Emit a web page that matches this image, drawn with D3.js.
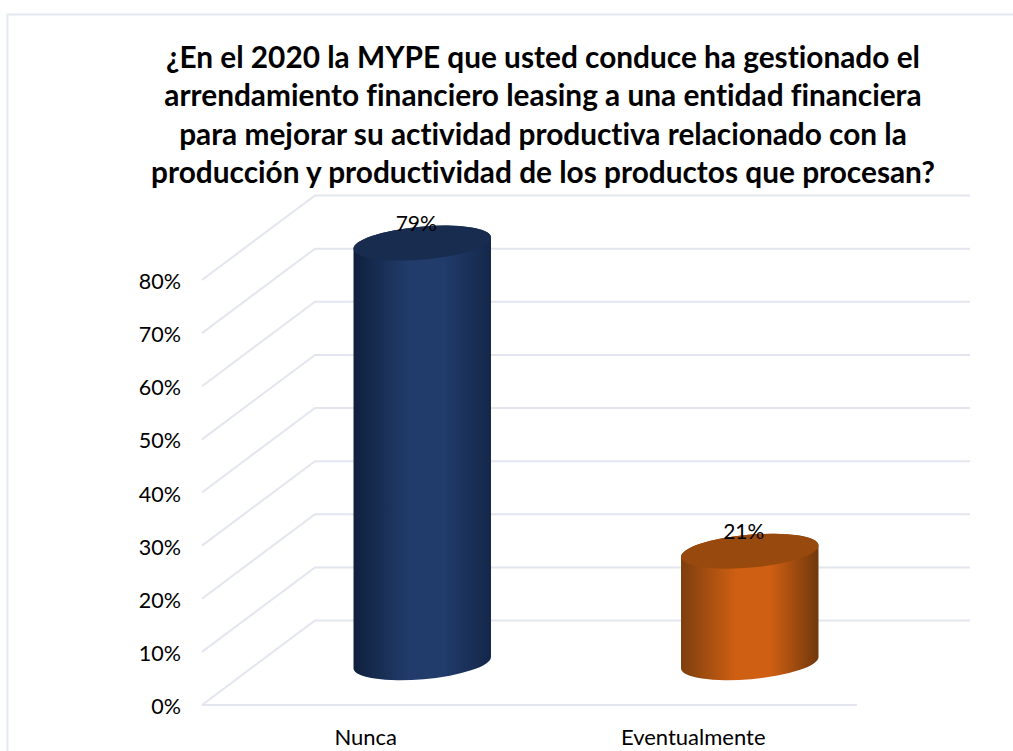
<!DOCTYPE html>
<html>
<head>
<meta charset="utf-8">
<script src="https://cdn.jsdelivr.net/npm/d3@7"></script>
<style>
  html, body { margin: 0; padding: 0; background: #fff; }
  text { font-family: Lato, "Open Sans", sans-serif; fill: #000; font-variant-ligatures: none; }
</style>
</head>
<body>
<svg id="chart" width="1013" height="751"></svg>
<script>
var titleLines = [
    "¿En el 2020 la MYPE que usted conduce ha gestionado el",
    "arrendamiento financiero leasing a una entidad financiera",
    "para mejorar su actividad productiva relacionado con la",
    "producción y productividad de los productos que procesan?"
];
var categories = ["Nunca", "Eventualmente"];
var values = [79, 21];
var yTicks = [0, 10, 20, 30, 40, 50, 60, 70, 80];
var barColors = [
    { edgeL: "#10203d", mid: "#213c6b", edgeR: "#14274a", top: "#182c50" },
    { edgeL: "#7d3f0e", mid: "#cf5f13", edgeR: "#70380c", top: "#97490e" }
];

var svg = d3.select("#chart");
var grid = "#e3e6ee";

// the picture frame, only left and top show
svg.append("path")
    .attr("d", "M7.5,751V14.5H1013")
    .attr("fill", "none")
    .attr("stroke", "#e3e8f0")
    .attr("stroke-width", 2);

svg.append("g").selectAll("text")
    .data(titleLines)
    .enter().append("text")
    .attr("x", 543)
    .attr("y", function(d, i) { return 68 + i * 38.3; })
    .attr("text-anchor", "middle")
    .attr("font-size", 29.8)
    .attr("font-weight", "bold")
    .text(function(d) { return d; });

var x = d3.scaleBand().domain(categories).range([202, 857]);
var y = d3.scaleLinear().domain([0, 80]).range([705, 280]);

// 3d floor depth
var depthX = 113, depthY = -84.5;

var walls = svg.append("g").attr("fill", "none").attr("stroke", grid).attr("stroke-width", 2);
walls.selectAll("path.wall")
    .data(yTicks)
    .enter().append("path")
    .attr("class", "wall")
    .attr("d", function(d) {
        var y0 = y(d);
        return "M" + x.range()[0] + "," + y0 +
            "L" + (x.range()[0] + depthX) + "," + (y0 + depthY) +
            "H" + (x.range()[1] + depthX);
    });
walls.append("path")
    .attr("d", "M" + x.range()[0] + "," + y(0) + "H" + x.range()[1]);

svg.append("g").selectAll("text")
    .data(yTicks)
    .enter().append("text")
    .attr("x", 181)
    .attr("y", function(d) { return y(d) + 9; })
    .attr("text-anchor", "end")
    .attr("font-size", 21.5)
    .text(function(d) { return d + "%"; });

svg.append("g").selectAll("text")
    .data(categories)
    .enter().append("text")
    .attr("x", function(d) { return x(d) + x.bandwidth() / 2; })
    .attr("y", 745)
    .attr("text-anchor", "middle")
    .attr("font-size", 22)
    .text(function(d) { return d; });

// horizontal shading on each cylinder
var defs = svg.append("defs");
barColors.forEach(function(c, i) {
    var g = defs.append("linearGradient").attr("id", "bar" + i);
    g.append("stop").attr("offset", "0%").attr("stop-color", c.edgeL);
    g.append("stop").attr("offset", "40%").attr("stop-color", c.mid);
    g.append("stop").attr("offset", "65%").attr("stop-color", c.mid);
    g.append("stop").attr("offset", "100%").attr("stop-color", c.edgeR);
});

var rx = 69, ry = 16.5, tilt = -5;
var dx = rx * Math.cos(tilt * Math.PI / 180), dy = rx * Math.sin(tilt * Math.PI / 180);

var bars = svg.append("g").selectAll("g")
    .data(values)
    .enter().append("g");

function cx(i) { return x(categories[i]) + x.bandwidth() / 2 + depthX / 2; }
function base() { return y(0) + depthY / 2; }
function top_(v) { return y(v) + depthY / 2; }

bars.append("path")
    .attr("fill", function(d, i) { return "url(#bar" + i + ")"; })
    .attr("d", function(d, i) {
        var c = cx(i), t = top_(d), b = base();
        var arc = "A" + rx + "," + ry + " " + tilt + " 0 0 ";
        return "M" + (c - dx) + "," + (t - dy) +
            "L" + (c - dx) + "," + (b - dy) +
            arc + (c + dx) + "," + (b + dy) +
            "L" + (c + dx) + "," + (t + dy) +
            arc + (c - dx) + "," + (t - dy) + "Z";
    });

bars.append("ellipse")
    .attr("rx", rx)
    .attr("ry", ry)
    .attr("fill", function(d, i) { return barColors[i].top; })
    .attr("transform", function(d, i) {
        return "translate(" + cx(i) + "," + top_(d) + ") rotate(" + tilt + ")";
    });

bars.append("text")
    .attr("x", function(d, i) { return cx(i) - 6; })
    .attr("y", function(d) { return top_(d) - 12; })
    .attr("text-anchor", "middle")
    .attr("font-size", 21)
    .text(function(d) { return d + "%"; });
</script>
</body>
</html>
